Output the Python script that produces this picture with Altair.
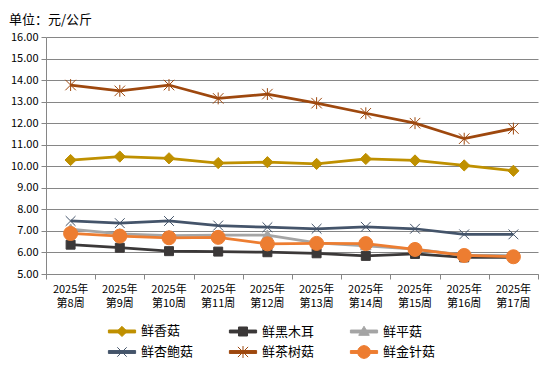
import altair as alt
import pandas as pd

weeks = ["2025年第8周", "2025年第9周", "2025年第10周", "2025年第11周", "2025年第12周",
         "2025年第13周", "2025年第14周", "2025年第15周", "2025年第16周", "2025年第17周"]
year_labels = ["2025年"] * 10
week_labels = ["第8周", "第9周", "第10周", "第11周", "第12周",
               "第13周", "第14周", "第15周", "第16周", "第17周"]
series = ["鲜香菇", "鲜黑木耳", "鲜平菇", "鲜杏鲍菇", "鲜茶树菇", "鲜金针菇"]
xianggu = [10.29, 10.45, 10.37, 10.15, 10.19, 10.11, 10.34, 10.27, 10.04, 9.79]
heimuer = [6.36, 6.22, 6.06, 6.04, 6.01, 5.96, 5.84, 5.93, 5.77, 5.77]
pinggu = [7.08, 6.86, 6.78, 6.80, 6.80, 6.45, 6.30, 6.15, 5.88, 5.85]
xingbaogu = [7.46, 7.36, 7.46, 7.25, 7.17, 7.10, 7.19, 7.10, 6.84, 6.84]
chashugu = [13.77, 13.50, 13.77, 13.15, 13.35, 12.93, 12.46, 12.00, 11.28, 11.75]
jinzhengu = [6.88, 6.76, 6.68, 6.70, 6.40, 6.42, 6.41, 6.14, 5.86, 5.80]
values = [xianggu, heimuer, pinggu, xingbaogu, chashugu, jinzhengu]
colors = ["#BF9000", "#3B3838", "#A5A5A5", "#44546A", "#9E480E", "#ED7D31"]

markers = [
    "M0,-0.8L0.8,0L0,0.8L-0.8,0Z",
    "M-0.64,-0.64H0.64V0.64H-0.64Z",
    "M0,-0.75L0.75,0.55L-0.75,0.55Z",
    "M-0.7,-0.7L0.7,0.7M0.7,-0.7L-0.7,0.7",
    "M-0.75,-0.75L0.75,0.75M0.75,-0.75L-0.75,0.75M0,-0.85L0,0.85",
    "circle",
]
bar = "M-1.6,-0.17H1.6V0.17H-1.6Z"
legend_syms = [
    bar + "M0,-0.6L0.6,0L0,0.6L-0.6,0Z",
    bar + "M-0.53,-0.53H0.53V0.53H-0.53Z",
    bar + "M0,-0.62L0.62,0.45L-0.62,0.45Z",
    bar + "M-0.55,-0.55L0.55,0.55M0.55,-0.55L-0.55,0.55",
    bar + "M-0.6,-0.6L0.6,0.6M0.6,-0.6L-0.6,0.6M0,-0.7L0,0.7",
    bar + "M0.76,0L0.66,0.38L0.38,0.66L0,0.76L-0.38,0.66L-0.66,0.38L-0.76,0L-0.66,-0.38"
          "L-0.38,-0.66L0,-0.76L0.38,-0.66L0.66,-0.38Z",
]

rows = []
for s, vals in zip(series, values):
    for w, v in zip(weeks, vals):
        rows.append({"week": w, "series": s, "price": v})
df = pd.DataFrame(rows)
label_df = pd.DataFrame({"week": weeks, "yr": year_labels, "wk": week_labels})
legend_df = pd.DataFrame({"lseries": series})

FONT = "Noto Sans CJK SC"
xenc = alt.X("week:N", sort=None,
             scale=alt.Scale(type="band", paddingInner=0, paddingOuter=0),
             axis=alt.Axis(title=None, labels=False, tickBand="extent", grid=False,
                           domainColor="#868686", tickColor="#868686", tickSize=5))
yenc = alt.Y("price:Q",
             scale=alt.Scale(domain=[5, 16], nice=False, zero=False),
             axis=alt.Axis(title=None, values=list(range(5, 17)), format=".2f",
                           labelFontSize=11, labelFont=FONT, labelColor="#000000",
                           labelPadding=3, gridColor="#868686", gridWidth=1,
                           domainColor="#868686", tickColor="#868686", tickSize=5))

lines = alt.Chart(df).mark_line(strokeWidth=2.75).encode(
    x=xenc, y=yenc,
    color=alt.Color("series:N", scale=alt.Scale(domain=series, range=colors), legend=None),
)

points = alt.Chart(df).mark_point(filled=True, size=196, strokeWidth=1, opacity=1).encode(
    x=xenc, y=yenc,
    fill=alt.Fill("series:N", scale=alt.Scale(domain=series, range=colors), legend=None),
    stroke=alt.Stroke("series:N", scale=alt.Scale(domain=series, range=colors), legend=None),
    shape=alt.Shape("series:N", scale=alt.Scale(domain=series, range=markers), legend=None),
)

lab1 = alt.Chart(label_df).mark_text(fontSize=11, font=FONT, color="#000000",
                                     baseline="middle").encode(
    x=xenc, y=alt.value(253), text="yr:N")
lab2 = alt.Chart(label_df).mark_text(fontSize=11, font=FONT, color="#000000",
                                     baseline="middle").encode(
    x=xenc, y=alt.value(267), text="wk:N")

leg = alt.Legend(title=None, orient="none", legendX=67, legendY=285, direction="horizontal",
                 columns=3, symbolSize=289, symbolStrokeWidth=1, symbolOpacity=1,
                 labelFontSize=13, labelFont=FONT, labelColor="#000000", labelOffset=10,
                 columnPadding=33, rowPadding=4, padding=0)

legend_layer = alt.Chart(legend_df).mark_point(
    filled=True, size=196, strokeWidth=1, opacity=0).encode(
    fill=alt.Fill("lseries:N", scale=alt.Scale(domain=series, range=colors), legend=leg),
    stroke=alt.Stroke("lseries:N", scale=alt.Scale(domain=series, range=colors), legend=leg),
    shape=alt.Shape("lseries:N", scale=alt.Scale(domain=series, range=legend_syms), legend=leg),
)

chart = alt.layer(lines, points, lab1, lab2, legend_layer).resolve_scale(
    shape="independent", fill="independent", stroke="independent"
).properties(
    width=492, height=237,
    title=alt.TitleParams("单位：元/公斤", anchor="start", frame="group", dx=-37, fontSize=13,
                          font=FONT, fontWeight="normal", color="#000000", offset=4),
    autosize=alt.AutoSizeParams(type="none"),
    padding={"left": 38, "top": 29, "right": 4, "bottom": 88},
).configure_view(stroke=None)

chart.save("out.html", embed_options={"renderer": "svg", "actions": False})
